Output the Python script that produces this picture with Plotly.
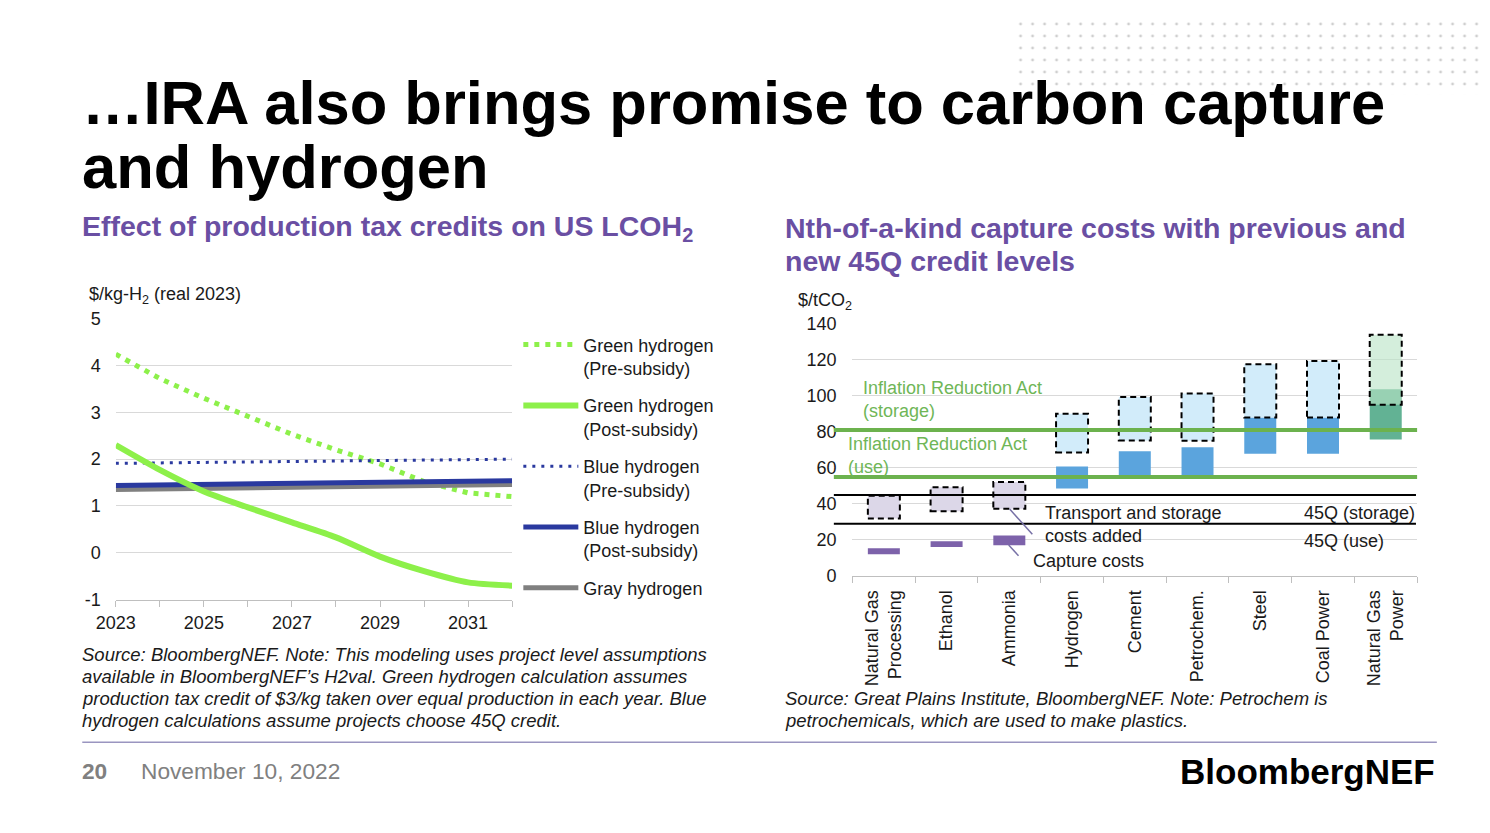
import plotly.graph_objects as go

W, H = 1490, 833
FONT = "Liberation Sans, Arial, sans-serif"


def px(x):
    return x / W


def py(y):
    return 1 - y / H


# ---------------- Left chart data: US LCOH2 ($/kg-H2, real 2023) ----------------
years = [2023, 2024, 2025, 2026, 2027, 2028, 2029, 2030, 2031, 2032]
label_years = [2023, 2025, 2027, 2029, 2031]
label_text = ["2023", "2025", "2027", "2029", "2031"]
y_ticks = [-1, 0, 1, 2, 3, 4, 5]
y_text = ["-1", "0", "1", "2", "3", "4", "5"]
green_pre = [4.24, 3.72, 3.30, 2.92, 2.53, 2.20, 1.90, 1.52, 1.28, 1.20]
green_post = [2.30, 1.77, 1.31, 0.97, 0.65, 0.33, -0.08, -0.39, -0.63, -0.70]
blue_pre = [1.91, 1.92, 1.93, 1.94, 1.95, 1.96, 1.97, 1.98, 1.99, 2.00]
blue_post = [1.44, 1.45, 1.46, 1.47, 1.48, 1.49, 1.50, 1.51, 1.52, 1.54]
gray_h2 = [1.35, 1.36, 1.37, 1.38, 1.39, 1.40, 1.42, 1.43, 1.44, 1.46]

# ---------------- Right chart data: capture costs ($/tCO2) ----------------
categories = ["Natural Gas<br>Processing", "Ethanol", "Ammonia", "Hydrogen", "Cement",
              "Petrochem.", "Steel", "Coal Power", "Natural Gas<br>Power"]
capture_low = [12.1, 16.1, 17.1, 48.6, 55.5, 55.5, 67.9, 67.9, 75.7]
capture_high = [15.4, 19.3, 22.5, 60.8, 69.3, 71.4, 88.0, 88.0, 103.6]
ts_low = [31.9, 35.9, 37.3, 68.6, 75.2, 75.1, 88.0, 88.0, 95.1]
ts_high = [44.6, 49.2, 52.1, 90.0, 99.3, 101.3, 117.5, 119.3, 133.9]
capture_colors = ["#7D62AA"] * 3 + ["#5BA4DD"] * 5 + ["#62B294"]
ts_colors = ["#DCD7E8"] * 3 + ["#D2ECFA"] * 5 + ["rgba(186,228,198,0.62)"]
ira_levels = [81, 55]          # Inflation Reduction Act (storage, use)
ira_labels = ["Inflation Reduction Act<br>(storage)", "Inflation Reduction Act<br>(use)"]
q45_levels = [45, 29]          # 45Q (storage, use)
q45_labels = ["45Q (storage)", "45Q (use)"]

BAR_W = 0.51
xpos = list(range(len(categories)))

fig = go.Figure()

# decorative dot pattern (top right of slide)
fig.add_trace(go.Scatter(
    x=[0, 1, 1, 0, 0], y=[0, 0, 1, 1, 0], fill="toself", mode="none",
    fillcolor="rgba(0,0,0,0)",
    fillpattern=dict(shape=".", size=12, solidity=0.045, fgcolor="#A0A0A0",
                     bgcolor="rgba(255,255,255,0)"),
    hoverinfo="skip", showlegend=False, xaxis="x3", yaxis="y3"))

# ---------- left chart lines ----------
GREEN = "#8DF04A"
NAVY = "#2A399F"
fig.add_trace(go.Scatter(x=years, y=green_pre, mode="lines", name="Green hydrogen<br>(Pre-subsidy)",
                         line=dict(color=GREEN, width=5, dash="5px,6px"), legendrank=1,
                         legendgroup="g1"))
fig.add_trace(go.Scatter(x=years, y=blue_pre, mode="lines", name="Blue hydrogen<br>(Pre-subsidy)",
                         line=dict(color=NAVY, width=3, dash="3px,6px"), legendrank=3,
                         legendgroup="g3"))
fig.add_trace(go.Scatter(x=years, y=gray_h2, mode="lines", name="Gray hydrogen",
                         line=dict(color="#808080", width=5), legendrank=5, legendgroup="g5"))
fig.add_trace(go.Scatter(x=years, y=blue_post, mode="lines", name="Blue hydrogen<br>(Post-subsidy)",
                         line=dict(color=NAVY, width=5), legendrank=4, legendgroup="g4"))
fig.add_trace(go.Scatter(x=years, y=green_post, mode="lines", name="Green hydrogen<br>(Post-subsidy)",
                         line=dict(color=GREEN, width=6, shape="spline", smoothing=0.7),
                         legendrank=2, legendgroup="g2"))

# ---------- right chart bars ----------
fig.add_trace(go.Bar(x=xpos, y=[h - l for h, l in zip(capture_high, capture_low)], base=capture_low,
                     width=BAR_W, marker=dict(color=capture_colors, line=dict(width=0)),
                     name="Capture costs", showlegend=False, xaxis="x2", yaxis="y2"))
fig.add_trace(go.Bar(x=xpos, y=[h - l for h, l in zip(ts_high, ts_low)], base=ts_low,
                     width=BAR_W, marker=dict(color=ts_colors, line=dict(width=0)),
                     name="Transport and storage costs added", showlegend=False,
                     xaxis="x2", yaxis="y2"))

shapes = []
# dashed outlines of transport & storage boxes
for i, (lo, hi) in enumerate(zip(ts_low, ts_high)):
    shapes.append(dict(type="rect", xref="x2", yref="y2", x0=xpos[i] - BAR_W / 2,
                       x1=xpos[i] + BAR_W / 2, y0=lo, y1=hi,
                       line=dict(color="black", width=2, dash="6px,4px"), layer="above"))
# credit level lines
for v in ira_levels:
    shapes.append(dict(type="line", xref="x2 domain", yref="y2", x0=-0.033, x1=1, y0=v, y1=v,
                       line=dict(color="#6CB24E", width=4), layer="above"))
for v in q45_levels:
    shapes.append(dict(type="line", xref="x2 domain", yref="y2", x0=-0.033, x1=0.998, y0=v, y1=v,
                       line=dict(color="black", width=2), layer="above"))
# leader lines for callouts
shapes.append(dict(type="line", xref="paper", yref="paper", x0=px(995), y0=py(503),
                   x1=px(1018), y1=py(529), line=dict(color="#7771A6", width=1.5)))
shapes.append(dict(type="line", xref="paper", yref="paper", x0=px(994), y0=py(540),
                   x1=px(1004), y1=py(551), line=dict(color="#7771A6", width=1.5)))
# footer rule
shapes.append(dict(type="line", xref="paper", yref="paper", x0=px(55), x1=px(1428),
                   y0=py(742), y1=py(742), line=dict(color="#9A95C0", width=1.5)))

ann = []


def text(x, y, s, size=18, color="#1A1A1A", bold=False, italic=False, xanchor="left",
         yanchor="middle", align="left"):
    ann.append(dict(x=px(x), y=py(y), xref="paper", yref="paper", text=s, showarrow=False,
                    xanchor=xanchor, yanchor=yanchor, align=align,
                    font=dict(family=FONT, size=size, color=color,
                              weight="bold" if bold else "normal",
                              style="italic" if italic else "normal")))


PURPLE = "#6A4FA3"
text(53, 87, "…IRA also brings promise to carbon capture", size=61.5, color="black", bold=True)
text(53, 152, "and hydrogen", size=61.5, color="black", bold=True)
text(53, 215, "Effect of production tax credits on US LCOH<sub>2</sub>", size=28.5, color=PURPLE, bold=True)
text(765, 215, "Nth-of-a-kind capture costs with previous and", size=28.5, color=PURPLE, bold=True)
text(765, 249, "new 45Q credit levels", size=28.5, color=PURPLE, bold=True)
text(60, 284, "$/kg-H<sub>2</sub> (real 2023)", size=18)
text(778, 290, "$/tCO<sub>2</sub>", size=18)

# right chart callouts
IRA_TXT = "#6FB657"
text(844, 391, ira_labels[0], size=18, color=IRA_TXT)
text(829, 448, ira_labels[1], size=18, color=IRA_TXT)
text(1029, 519, "Transport and storage<br>costs added", size=18)
text(1017, 556, "Capture costs", size=18)
text(1291, 507, q45_labels[0], size=18)
text(1291, 536, q45_labels[1], size=18)

# sources
left_src = ["Source: BloombergNEF. Note: This modeling uses project level assumptions",
            "available in BloombergNEF’s H2val. Green hydrogen calculation assumes",
            "production tax credit of $3/kg taken over equal production in each year. Blue",
            "hydrogen calculations assume projects choose 45Q credit."]
for k, line in enumerate(left_src):
    text(53, 652 + 22.7 * k, line, size=18.5, italic=True)
right_src = ["Source: Great Plains Institute, BloombergNEF. Note: Petrochem is",
             "petrochemicals, which are used to make plastics."]
for k, line in enumerate(right_src):
    text(765, 697 + 22.7 * k, line, size=18.5, italic=True)

# footer
text(53, 772, "20", size=22.7, color="#808080", bold=True)
text(113, 772, "November 10, 2022", size=22.7, color="#808080")
text(1428, 772, "BloombergNEF", size=35, color="black", bold=True, xanchor="right")

AX_FONT = dict(family=FONT, size=18, color="#1A1A1A")
GRID = "#D9D9D9"
fig.update_layout(
    width=W, height=H, margin=dict(l=0, r=0, t=0, b=0),
    paper_bgcolor="white", plot_bgcolor="white",
    font=dict(family=FONT, size=18, color="#1A1A1A"),
    showlegend=True,
    legend=dict(x=px(497), y=py(316), xanchor="left", yanchor="top", font=AX_FONT,
                itemwidth=55, tracegroupgap=11, valign="top", bgcolor="rgba(0,0,0,0)",
                traceorder="grouped"),
    barmode="overlay",
    xaxis=dict(domain=[px(89), px(490.7)], range=[2023, 2032], tickvals=label_years,
               ticktext=label_text,
               showgrid=False, zeroline=False, showline=True, linecolor="#BFBFBF", linewidth=1,
               ticks="outside", ticklen=6, tickcolor="#BFBFBF", tickfont=AX_FONT,
               ticklabelstandoff=1,
               minor=dict(tick0=2023, dtick=1, ticks="outside", ticklen=6, tickcolor="#BFBFBF",
                          showgrid=False),
               anchor="y"),
    yaxis=dict(domain=[py(596), py(308)], range=[-1, 5], tickvals=y_ticks, ticktext=y_text,
               showgrid=True, gridcolor=GRID,
               zeroline=False, showline=False, ticks="", tickfont=AX_FONT, ticklabelstandoff=14,
               anchor="x"),
    xaxis2=dict(domain=[px(835.7), px(1408)], range=[-0.5, 8.5], tickvals=xpos, ticktext=categories,
                tickangle=-90, ticks="", showgrid=False, zeroline=False, showline=True,
                linecolor="#BFBFBF", linewidth=1, tickfont=AX_FONT, ticklabelstandoff=6,
                minor=dict(tick0=-0.5, dtick=1, ticks="outside", ticklen=6, tickcolor="#BFBFBF",
                           showgrid=False),
                anchor="y2"),
    yaxis2=dict(domain=[py(571.7), py(313.3)], range=[0, 140], dtick=20, showgrid=True,
                gridcolor=GRID, zeroline=False, showline=False, ticks="", tickfont=AX_FONT,
                ticklabelstandoff=15, anchor="x2"),
    xaxis3=dict(domain=[px(1000), 1], range=[0, 1], visible=False, fixedrange=True, anchor="y3"),
    yaxis3=dict(domain=[py(78), 1], range=[0, 1], visible=False, fixedrange=True, anchor="x3"),
    shapes=shapes,
    annotations=ann,
)

fig.write_html("out.html", config={"displayModeBar": False})
